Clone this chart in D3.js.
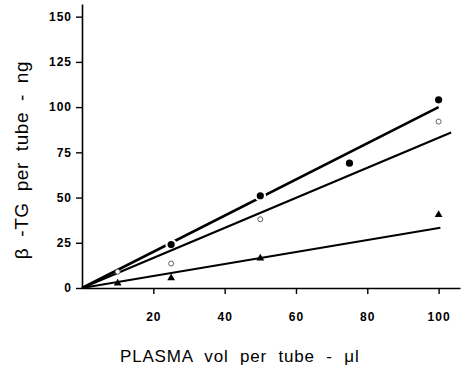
<!DOCTYPE html>
<html>
<head>
<meta charset="utf-8">
<script src="https://cdn.jsdelivr.net/npm/d3@7"></script>
<style>
  body { margin: 0; background: #fff; }
  svg { display: block; }
</style>
</head>
<body>
<div id="chart"></div>
<script>
// data
const filledX = [25, 50, 75, 100];
const filledY = [24, 51, 69, 104];
const openX = [10, 25, 50, 100];
const openY = [9, 13.5, 38, 92];
const triX = [10, 25, 50, 100];
const triY = [2.6, 5.5, 16.5, 40.5];

// fitted lines (end points as drawn)
const fitFilled = [[0, 0], [100, 100]];
const fitOpen = [[0, 0], [103.5, 86]];
const fitTri = [[0, 0], [100.5, 33.3]];

const yTicks = [0, 25, 50, 75, 100, 125, 150];
const xTicks = [20, 40, 60, 80, 100];

const W = 467, H = 369;

const svg = d3.select("#chart").append("svg")
  .attr("width", W)
  .attr("height", H);

const x = d3.scaleLinear().domain([0, 106]).range([82, 460]);
const y = d3.scaleLinear().domain([0, 157]).range([288, 4]);

// axes
const yAxis = svg.append("g")
  .attr("transform", "translate(" + x(0) + ",0)")
  .call(d3.axisLeft(y).tickValues(yTicks).tickSize(6).tickPadding(4).tickSizeOuter(0));

const xAxis = svg.append("g")
  .attr("transform", "translate(0," + y(0) + ")")
  .call(d3.axisBottom(x).tickValues(xTicks).tickSize(6).tickPadding(18).tickSizeOuter(0));

[yAxis, xAxis].forEach(function(g){
  g.select(".domain").attr("stroke", "#000").attr("stroke-width", 1.6);
  g.selectAll(".tick line").attr("stroke", "#000").attr("stroke-width", 1.4);
  g.selectAll(".tick text")
    .attr("fill", "#000")
    .style("font-family", "'Liberation Sans', Arial, sans-serif")
    .style("font-weight", "bold")
    .style("font-size", "12px")
    .style("letter-spacing", "1px");
});

const line = d3.line()
  .x(function(d){ return x(d[0]); })
  .y(function(d){ return y(d[1]); });

// filled series: thick line broken round its dots
svg.append("path")
  .datum(fitFilled)
  .attr("d", line)
  .attr("fill", "none")
  .attr("stroke", "#000")
  .attr("stroke-width", 2.6);

svg.append("g").selectAll("circle")
  .data(filledX.map(function(v, i){ return [v, filledY[i]]; }))
  .enter()
  .append("circle")
  .attr("cx", function(d){ return x(d[0]); })
  .attr("cy", function(d){ return y(d[1]); })
  .attr("r", 3.6)
  .attr("fill", "#000")
  .attr("stroke", "#fff")
  .attr("stroke-width", 4.4)
  .attr("paint-order", "stroke");

// open circle and triangle lines
svg.append("path")
  .datum(fitOpen)
  .attr("d", line)
  .attr("fill", "none")
  .attr("stroke", "#000")
  .attr("stroke-width", 2.2);

svg.append("path")
  .datum(fitTri)
  .attr("d", line)
  .attr("fill", "none")
  .attr("stroke", "#000")
  .attr("stroke-width", 1.9);

svg.append("g").selectAll("circle")
  .data(openX.map(function(v, i){ return [v, openY[i]]; }))
  .enter()
  .append("circle")
  .attr("cx", function(d){ return x(d[0]); })
  .attr("cy", function(d){ return y(d[1]); })
  .attr("r", 2.5)
  .attr("fill", "#fff")
  .attr("stroke", "#555")
  .attr("stroke-width", 0.9);

const tri = d3.symbol().type(d3.symbolTriangle).size(26);
svg.append("g").selectAll("path")
  .data(triX.map(function(v, i){ return [v, triY[i]]; }))
  .enter()
  .append("path")
  .attr("d", tri)
  .attr("transform", function(d){ return "translate(" + x(d[0]) + "," + y(d[1]) + ")"; })
  .attr("fill", "#000");

// axis titles
svg.append("text")
  .attr("x", 120)
  .attr("y", 362)
  .style("font-family", "'Liberation Sans', Arial, sans-serif")
  .style("font-size", "17px")
  .style("letter-spacing", "0.8px")
  .style("word-spacing", "6px")
  .text("PLASMA vol per tube - \u03bcl");

svg.append("text")
  .attr("transform", "translate(28,160) rotate(-90)")
  .attr("text-anchor", "middle")
  .style("font-family", "'Liberation Sans', Arial, sans-serif")
  .style("font-size", "19px")
  .style("letter-spacing", "0.6px")
  .style("word-spacing", "5px")
  .text("\u03b2 -TG per tube - ng");
</script>
</body>
</html>
